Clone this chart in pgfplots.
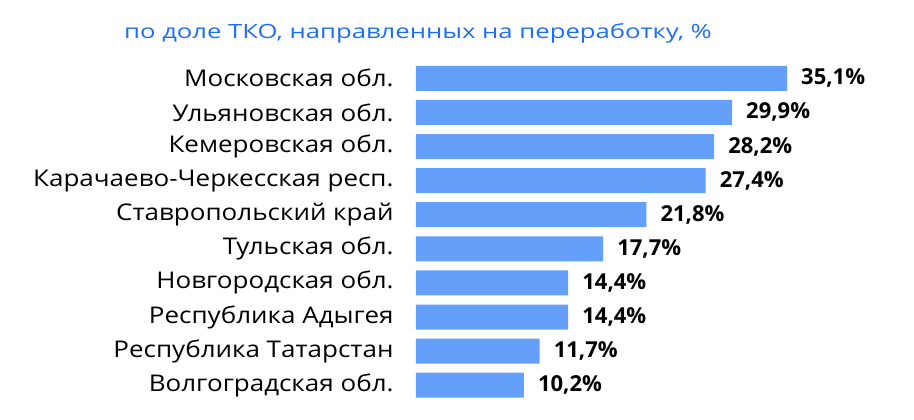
\documentclass[border=0pt]{standalone}
\usepackage{pgfplots}
\pgfplotsset{compat=1.18}
\usepackage{fontspec}
\setmainfont{Open Sans}
\newfontfamily\labelfont[FakeStretch=1.13]{Open Sans}
\newfontfamily\titlefont[FakeStretch=1.31]{Open Sans}
\definecolor{barblue}{RGB}{100,160,250}
\definecolor{titleblue}{RGB}{30,110,245}
\begin{document}
\begin{tikzpicture}
\path[use as bounding box] (0,0) rectangle (914bp,420bp);
\node[text=titleblue, font=\titlefont\fontsize{19.6bp}{22bp}\selectfont, inner sep=0pt] at (418bp,387bp) {по доле ТКО, направленных на переработку, \%};
\begin{axis}[
  at={(416bp,34.8bp)}, anchor=origin,
  scale only axis, width=371bp, height=306.9bp,
  xmin=0, xmax=35.1, ymin=0, ymax=9,
  enlargelimits=false, clip=false,
  xbar, bar width=25bp,
  axis line style={draw=none},
  tick style={draw=none},
  xtick=\empty,
  ytick={0,...,9},
  yticklabels={Волгоградская обл.,Республика Татарстан,Республика Адыгея,Новгородская обл.,Тульская обл.,Ставропольский край,Карачаево-Черкесская респ.,Кемеровская обл.,Ульяновская обл.,Московская обл.},
  yticklabel style={anchor=east, inner sep=0pt, xshift=-18bp, font=\labelfont\fontsize{23bp}{26bp}\selectfont, text=black},
  point meta=explicit symbolic,
  nodes near coords={\pgfplotspointmeta},
  nodes near coords style={anchor=west, inner sep=0pt, xshift=14bp, font=\bfseries\fontsize{22bp}{24bp}\selectfont, text=black},
]
\addplot[fill=barblue, draw=none] coordinates {
(10.2,0) [10,2\%]
(11.7,1) [11,7\%]
(14.4,2) [14,4\%]
(14.4,3) [14,4\%]
(17.7,4) [17,7\%]
(21.8,5) [21,8\%]
(27.4,6) [27,4\%]
(28.2,7) [28,2\%]
(29.9,8) [29,9\%]
(35.1,9) [35,1\%]
};
\end{axis}
\end{tikzpicture}
\end{document}
